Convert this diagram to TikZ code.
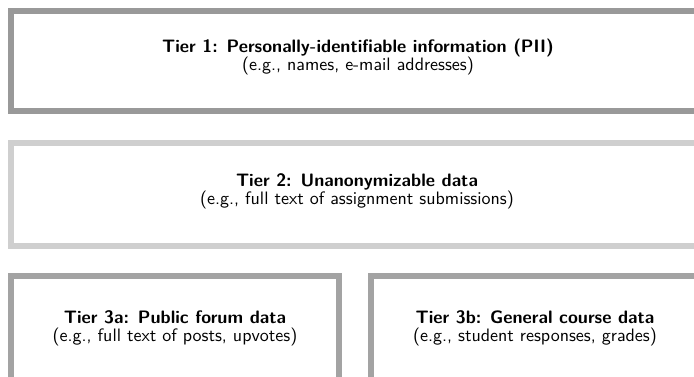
\documentclass[tikz,border=0pt]{standalone}
\usepackage{fontspec}
\newfontfamily\tiersans{lmsans10-regular}[Extension=.otf, BoldFont=lmsans10-bold]
\usetikzlibrary{positioning}

\definecolor{tieredge}{gray}{0.6}
\definecolor{tierpale}{gray}{0.81}
\definecolor{tiermid}{gray}{0.64}

\tikzset{
  tierbox/.style={draw=#1, line width=6pt, inner sep=0pt, fill=white},
  tiertext/.style={align=center, inner sep=0pt, font=\tiersans\fontsize{18}{18}\selectfont},
}

\begin{document}
\begin{tikzpicture}[x=1pt,y=-1pt]
  \useasboundingbox (0,0) rectangle (694,377);
  \clip (0,0) rectangle (694,377);
  % the four tiers
  \node[tierbox=tieredge, minimum width=690pt, minimum height=100pt] (tier1) at (356,61) {};
  \node[tierbox=tierpale, minimum width=690pt, minimum height=102pt] (tier2) at (356,194.5) {};
  \node[tierbox=tiermid, minimum width=328pt, minimum height=120pt] (tier3a) at (175,336) {};
  \node[tierbox=tiermid, minimum width=330pt, minimum height=120pt] (tier3b) at (536,336) {};
  % what each tier holds
  \node[tiertext] (t1) at (358,57) {\textbf{Tier 1: Personally-identifiable information (PII)}\\(e.g., names, e-mail addresses)};
  \node[tiertext] (t2) at (357,191) {\textbf{Tier 2: Unanonymizable data}\\(e.g., full text of assignment submissions)};
  \node[tiertext] (t3a) at (175,328) {\textbf{Tier 3a: Public forum data}\\(e.g., full text of posts, upvotes)};
  \node[tiertext] (t3b) at (535,328) {\textbf{Tier 3b: General course data}\\(e.g., student responses, grades)};
\end{tikzpicture}
\end{document}
